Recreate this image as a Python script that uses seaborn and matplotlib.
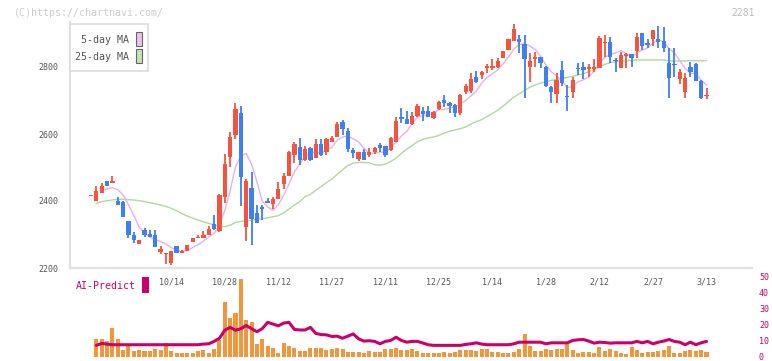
import matplotlib
matplotlib.use("Agg")
import matplotlib.pyplot as plt
import matplotlib.transforms as mtransforms
from matplotlib.patches import Rectangle
import seaborn as sns
import pandas as pd
import numpy as np

# daily candles (one per trading day, oldest first)
open_ = [2415, 2401, 2425, 2460, 2455, 2400, 2397, 2340, 2299, 2273,
         2313, 2301, 2299, 2248, 2241, 2216, 2266, 2246, 2252, 2279,
         2289, 2291, 2299, 2331, 2310, 2413, 2532, 2597, 2664, 2323,
         2438, 2363, 2382, 2400, 2391, 2407, 2452, 2475, 2537, 2562,
         2522, 2559, 2529, 2569, 2545, 2577, 2592, 2637, 2609, 2552,
         2525, 2545, 2537, 2545, 2567, 2564, 2552, 2577, 2650, 2645,
         2630, 2655, 2669, 2669, 2647, 2675, 2700, 2693, 2687, 2664,
         2724, 2729, 2770, 2777, 2798, 2798, 2801, 2826, 2851, 2879,
         2884, 2869, 2801, 2824, 2830, 2801, 2741, 2720, 2791, 2712,
         2724, 2795, 2801, 2795, 2795, 2796, 2872, 2876, 2820, 2798,
         2834, 2839, 2848, 2900, 2869, 2883, 2883, 2878, 2813, 2807,
         2764, 2726, 2799, 2809, 2758, 2712]
high = [2418, 2446, 2455, 2460, 2475, 2411, 2400, 2340, 2307, 2284,
        2318, 2313, 2313, 2266, 2246, 2250, 2266, 2254, 2270, 2290,
        2298, 2310, 2326, 2358, 2421, 2540, 2607, 2693, 2684, 2465,
        2487, 2388, 2388, 2408, 2411, 2458, 2485, 2550, 2575, 2587,
        2564, 2562, 2586, 2585, 2587, 2594, 2637, 2642, 2618, 2557,
        2546, 2554, 2557, 2560, 2572, 2565, 2590, 2652, 2677, 2669,
        2667, 2690, 2682, 2684, 2670, 2700, 2715, 2697, 2690, 2718,
        2750, 2781, 2788, 2788, 2809, 2823, 2826, 2848, 2884, 2928,
        2896, 2896, 2841, 2844, 2831, 2802, 2742, 2781, 2818, 2746,
        2771, 2813, 2814, 2809, 2824, 2894, 2896, 2891, 2826, 2846,
        2841, 2840, 2900, 2901, 2884, 2911, 2922, 2920, 2856, 2856,
        2794, 2781, 2814, 2813, 2760, 2738]
low = [2415, 2401, 2425, 2445, 2453, 2388, 2353, 2290, 2274, 2273,
       2293, 2293, 2264, 2243, 2212, 2210, 2246, 2246, 2252, 2277,
       2289, 2291, 2299, 2313, 2308, 2393, 2501, 2584, 2386, 2282,
       2270, 2335, 2343, 2393, 2375, 2407, 2435, 2475, 2514, 2507,
       2520, 2520, 2529, 2535, 2537, 2577, 2590, 2597, 2547, 2527,
       2520, 2522, 2530, 2540, 2547, 2532, 2550, 2577, 2632, 2630,
       2628, 2652, 2640, 2650, 2645, 2672, 2682, 2662, 2652, 2657,
       2720, 2721, 2753, 2764, 2783, 2791, 2798, 2826, 2851, 2879,
       2843, 2708, 2756, 2801, 2798, 2741, 2693, 2693, 2744, 2670,
       2708, 2776, 2765, 2769, 2786, 2796, 2831, 2811, 2784, 2796,
       2796, 2801, 2828, 2851, 2858, 2864, 2858, 2846, 2708, 2771,
       2748, 2707, 2771, 2759, 2704, 2704]
close = [2418, 2430, 2444, 2445, 2461, 2388, 2353, 2299, 2284, 2284,
         2299, 2293, 2264, 2256, 2243, 2250, 2246, 2252, 2269, 2289,
         2293, 2299, 2316, 2316, 2418, 2510, 2592, 2675, 2473, 2461,
         2347, 2335, 2377, 2393, 2406, 2436, 2475, 2547, 2570, 2522,
         2554, 2522, 2569, 2537, 2585, 2588, 2630, 2615, 2554, 2542,
         2545, 2522, 2547, 2559, 2559, 2537, 2587, 2640, 2645, 2630,
         2654, 2685, 2660, 2650, 2667, 2697, 2692, 2684, 2664, 2716,
         2744, 2764, 2754, 2784, 2800, 2800, 2818, 2848, 2884, 2913,
         2875, 2823, 2818, 2830, 2813, 2744, 2724, 2761, 2753, 2710,
         2761, 2793, 2791, 2797, 2797, 2888, 2874, 2831, 2818, 2836,
         2839, 2828, 2889, 2864, 2867, 2909, 2876, 2858, 2766, 2805,
         2786, 2766, 2784, 2759, 2708, 2714]

# moving averages as drawn on the chart
ma5 = [np.nan, np.nan, 2430, 2436, 2440, 2434, 2418, 2389, 2357, 2322,
       2304, 2292, 2285, 2279, 2271, 2261, 2252, 2249, 2252, 2261,
       2270, 2280, 2293, 2303, 2328, 2372, 2430, 2502, 2534, 2542,
       2510, 2458, 2399, 2383, 2372, 2389, 2417, 2451, 2487, 2510,
       2534, 2543, 2547, 2541, 2553, 2560, 2582, 2591, 2594, 2586,
       2577, 2556, 2542, 2543, 2546, 2545, 2558, 2576, 2594, 2608,
       2631, 2651, 2655, 2656, 2663, 2672, 2673, 2678, 2681, 2691,
       2700, 2714, 2728, 2752, 2769, 2780, 2791, 2810, 2830, 2853,
       2868, 2869, 2863, 2852, 2832, 2806, 2786, 2774, 2759, 2738,
       2742, 2756, 2762, 2770, 2788, 2813, 2829, 2837, 2842, 2849,
       2840, 2830, 2842, 2851, 2857, 2871, 2881, 2875, 2855, 2843,
       2818, 2796, 2781, 2780, 2761, 2746]
ma25 = [np.nan, 2393, 2398, 2401, 2403, 2405, 2405, 2404, 2403, 2401,
        2398, 2395, 2392, 2388, 2384, 2378, 2371, 2362, 2355, 2349,
        2343, 2338, 2333, 2329, 2325, 2323, 2328, 2336, 2339, 2341,
        2343, 2345, 2347, 2350, 2353, 2356, 2365, 2376, 2388, 2398,
        2413, 2420, 2432, 2443, 2455, 2465, 2480, 2493, 2506, 2513,
        2515, 2515, 2514, 2508, 2507, 2510, 2518, 2528, 2542, 2555,
        2565, 2577, 2584, 2588, 2591, 2596, 2603, 2608, 2612, 2616,
        2621, 2630, 2637, 2643, 2652, 2661, 2671, 2683, 2697, 2710,
        2720, 2730, 2740, 2746, 2752, 2756, 2760, 2763, 2766, 2769,
        2772, 2776, 2780, 2786, 2792, 2800, 2808, 2813, 2816, 2817,
        2819, 2820, 2821, 2821, 2821, 2821, 2821, 2821, 2818, 2818,
        2818, 2818, 2819, 2819, 2819, 2819]

# lower panel: volume bars and AI-Predict line (first day has none)
volume = [np.nan, 10.7, 11.1, 9.5, 17.9, 10.7, 3.9, 7.0, 3.3, 3.9,
          3.3, 3.3, 4.5, 3.9, 8.6, 3.3, 1.9, 1.9, 1.9, 1.9,
          3.3, 3.9, 2.5, 4.9, 10.1, 34.1, 24.3, 27.4, 48.8, 22.8,
          22.0, 8.0, 11.1, 6.6, 5.3, 2.5, 8.6, 6.6, 5.6, 3.3,
          3.3, 5.3, 5.6, 5.6, 4.3, 4.9, 5.6, 4.9, 3.1, 3.1,
          2.9, 1.9, 3.3, 2.7, 2.7, 4.5, 4.7, 5.1, 4.3, 4.3,
          4.7, 3.5, 2.5, 2.5, 2.3, 2.3, 3.1, 1.9, 2.9, 4.3,
          4.3, 4.1, 3.7, 4.5, 4.5, 2.9, 2.9, 2.5, 2.5, 2.9,
          4.5, 14.2, 6.6, 3.3, 3.3, 4.5, 3.9, 4.9, 4.5, 8.0,
          3.9, 2.5, 2.7, 2.7, 2.5, 5.8, 3.3, 4.9, 3.3, 2.3,
          1.4, 6.2, 3.9, 2.5, 2.9, 2.9, 3.5, 4.3, 6.4, 2.5,
          1.9, 3.3, 3.9, 3.3, 3.9, 2.9]
ai_predict = [np.nan, 7.0, 8.2, 7.8, 7.4, 7.4, 7.4, 7.4, 7.4, 7.4,
              7.4, 7.4, 7.4, 7.4, 7.4, 7.4, 7.4, 7.4, 7.4, 7.4,
              7.4, 7.8, 8.0, 9.5, 11.5, 16.5, 18.3, 16.5, 17.5, 19.5,
              17.5, 15.6, 17.5, 21.5, 20.4, 19.3, 21.0, 21.5, 17.0, 16.7,
              16.7, 18.3, 14.5, 13.8, 13.6, 12.6, 12.8, 11.5, 12.8, 14.2,
              11.1, 9.7, 9.9, 9.5, 8.0, 9.5, 10.1, 12.1, 10.1, 9.0,
              9.5, 9.5, 8.5, 7.4, 7.0, 7.0, 7.0, 7.0, 7.0, 7.0,
              7.6, 8.0, 8.6, 7.8, 7.4, 7.4, 7.4, 7.4, 7.4, 8.0,
              9.0, 9.0, 9.0, 9.0, 9.0, 8.0, 8.6, 8.6, 8.6, 8.6,
              10.1, 10.5, 10.7, 9.7, 8.4, 9.0, 8.8, 8.4, 8.6, 8.6,
              8.6, 8.6, 9.5, 8.6, 9.5, 8.0, 9.0, 9.7, 10.7, 9.5,
              9.0, 7.4, 9.0, 7.4, 8.6, 9.5]

date_labels = ['10/14', '10/28', '11/12', '11/27', '12/11', '12/25',
               '1/14', '1/28', '2/12', '2/27', '3/13']
date_label_idx = [15, 25, 35, 45, 55, 65, 75, 85, 95, 105, 115]
price_ticks = [2200, 2400, 2600, 2800]
ai_ticks = [0, 10, 20, 30, 40, 50]

RED = '#f2543f'
BLUE = '#3f7ff0'
ORANGE = '#f0963c'
MAGENTA = '#cc0066'
PINK = '#e8b0e8'
GREEN = '#acd99c'
GRAY_LINE = '#e2e2e2'
TXT = '#555555'

df = pd.DataFrame({'open': open_, 'high': high, 'low': low, 'close': close,
                   'ma5': ma5, 'ma25': ma25, 'volume': volume, 'ai': ai_predict})
df['idx'] = np.arange(len(df))

sns.set_style("white")
plt.rcParams['font.family'] = ['DejaVu Sans Mono']

W, H = 772, 361
fig = plt.figure(figsize=(W / 100, H / 100), dpi=100)


def px_axes(x0, y0, x1, y1):
    return fig.add_axes([x0 / W, 1 - y1 / H, (x1 - x0) / W, (y1 - y0) / H])


ax = px_axes(70, 22, 752, 268)
axv = px_axes(70, 277, 752, 356.5)
xlim = (-3.92, 123.5)

# --- price panel ---
up = df['close'] >= df['open']
colors = np.where(up, RED, BLUE)
ax.vlines(df['idx'], df['low'], df['high'], colors=colors, lw=1.3, zorder=3)
body = (df['close'] - df['open']).abs().clip(lower=4)
bottom = df[['open', 'close']].min(axis=1)
ax.bar(df['idx'], body, bottom=bottom, width=0.8, color=colors, linewidth=0, zorder=4)

sns.lineplot(data=df, x='idx', y='ma25', ax=ax, color=GREEN, lw=1.0, zorder=2)
sns.lineplot(data=df, x='idx', y='ma5', ax=ax, color=PINK, lw=1.0, zorder=2)

ax.set_xlim(*xlim)
ax.set_ylim(2200, 2200 + 246 * 200 / 67)
ax.set_yticks(price_ticks)
ax.set_yticklabels([str(v) for v in price_ticks], fontsize=6, color=TXT)
ax.set_xticks(np.arange(xlim[0], xlim[1] + 0.1, 11.56))
ax.set_xticklabels([])
ax.tick_params(axis='both', direction='inout', length=7, width=1.2, color=GRAY_LINE)
ax.tick_params(axis='y', pad=5)
ax.set_xlabel('')
ax.set_ylabel('')
for side in ['top', 'right']:
    ax.spines[side].set_visible(False)
for side in ['left', 'bottom']:
    ax.spines[side].set_color(GRAY_LINE)
    ax.spines[side].set_linewidth(1.6)

lab_tr = mtransforms.blended_transform_factory(ax.transData, fig.transFigure)
for pos, lab in zip(date_label_idx, date_labels):
    ax.text(pos, 1 - 282 / H, lab, transform=lab_tr, ha='center', va='center',
            fontsize=6, color=TXT, clip_on=False)

# --- lower panel ---
axv.bar(df['idx'], df['volume'], width=0.75, color=ORANGE, linewidth=0)
sns.lineplot(data=df, x='idx', y='ai', ax=axv, color=MAGENTA, lw=2.2)
axv.set_xlim(*xlim)
axv.set_ylim(0, 50)
axv.set_xticks([])
axv.set_yticks(ai_ticks)
axv.yaxis.tick_right()
axv.set_yticklabels([str(v) for v in ai_ticks], fontsize=6, color=MAGENTA)
axv.tick_params(axis='y', length=0, pad=5)
axv.set_xlabel('')
axv.set_ylabel('')
for s in axv.spines.values():
    s.set_visible(False)
axv.patch.set_alpha(0)

# --- overlay texts and legend (pixel coordinates) ---
ov = fig.add_axes([0, 0, 1, 1])
ov.set_xlim(0, W)
ov.set_ylim(H, 0)
ov.axis('off')
ov.set_zorder(10)

ov.text(14, 12.5, '(C)https://chartnavi.com/', fontsize=7.2, color='#cccccc', va='center')
ov.text(755, 12.5, '2281', fontsize=7, color='#bbbbbb', va='center', ha='right')

ov.add_patch(Rectangle((70, 24), 78, 47, fc='white', ec='#dddddd', lw=1.2))
ov.text(129, 40, '5-day MA', ha='right', va='center', fontsize=7.2, color=TXT)
ov.text(129, 57, '25-day MA', ha='right', va='center', fontsize=7.2, color=TXT)
ov.add_patch(Rectangle((136, 31.5), 6, 14, fc='#ecc2ec', ec='#666666', lw=0.8))
ov.add_patch(Rectangle((136, 48.5), 6, 14, fc='#c4e4b4', ec='#666666', lw=0.8))

ov.text(76, 286, 'AI-Predict', fontsize=7.1, color=MAGENTA, va='center')
ov.add_patch(Rectangle((142.3, 277.3), 6.4, 15.4, fc=MAGENTA, ec='none'))

fig.savefig('out.png', dpi=100)
